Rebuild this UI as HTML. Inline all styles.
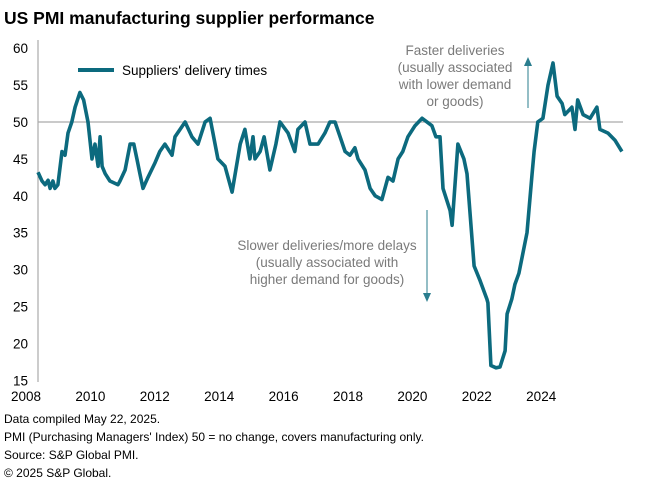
<!DOCTYPE html>
<html><head><meta charset="utf-8"><style>
body{margin:0;background:#fff;font-family:"Liberation Sans",Arial,sans-serif;}
svg text{font-family:"Liberation Sans",Arial,sans-serif;}
</style></head><body>
<svg id="c" width="648" height="492" viewBox="0 0 648 492" xmlns="http://www.w3.org/2000/svg">
<text x="4" y="24" font-size="17.5" font-weight="bold" fill="#000">US PMI manufacturing supplier performance</text>
<line x1="38" y1="40" x2="38" y2="382" stroke="#999" stroke-width="1"/>
<line x1="38" y1="122" x2="623" y2="122" stroke="#aaa" stroke-width="1.3"/>
<g id="yt"></g><g id="xt"></g>
<line x1="78" y1="70" x2="114" y2="70" stroke="#0c6a7e" stroke-width="4"/>
<text x="122" y="75" font-size="13.5" fill="#000">Suppliers' delivery times</text>
<g font-size="13.5" fill="#7a7a7a" text-anchor="middle">
<text x="455" y="55">Faster deliveries</text><text x="455" y="72">(usually associated</text><text x="455" y="89">with lower  demand</text><text x="455" y="106">or goods)</text></g>
<line x1="528" y1="108" x2="528" y2="64" stroke="#2a7d8e" stroke-width="1"/>
<polygon points="524,66 532,66 528,57" fill="#2a7d8e"/>
<g font-size="13.5" fill="#7a7a7a" text-anchor="middle">
<text x="327" y="250">Slower deliveries/more delays</text><text x="327" y="267">(usually associated with</text><text x="327" y="284">higher demand  for goods)</text></g>
<line x1="427" y1="210" x2="427" y2="295" stroke="#2a7d8e" stroke-width="1"/>
<polygon points="423,293 431,293 427,302" fill="#2a7d8e"/>
<path id="ln" fill="none" stroke="#0c6a7e" stroke-width="3.6" stroke-linejoin="round"/>
<g font-size="12" fill="#000">
<text x="4" y="423">Data compiled May 22, 2025.</text>
<text x="4" y="441">PMI (Purchasing Managers' Index) 50 =  no change, covers manufacturing only.</text>
<text x="4" y="459">Source: S&amp;P Global PMI.</text>
<text x="4" y="477">© 2025 S&amp;P Global.</text></g>
</svg>
<script>
const yTicks=[15,20,25,30,35,40,45,50,55,60];
const xLabels=["2008","2010","2012","2014","2016","2018","2020","2022","2024"];
const dates=[2008.00,2008.12,2008.21,2008.30,2008.36,2008.44,2008.50,2008.59,2008.71,2008.80,2008.89,2009.00,2009.10,2009.24,2009.35,2009.48,2009.60,2009.69,2009.78,2009.84,2009.90,2009.99,2010.13,2010.37,2010.43,2010.58,2010.73,2010.84,2010.93,2011.02,2011.11,2011.26,2011.47,2011.61,2011.76,2011.97,2012.06,2012.36,2012.56,2012.74,2012.95,2013.10,2013.33,2013.54,2013.75,2013.99,2014.13,2014.28,2014.37,2014.43,2014.58,2014.70,2014.87,2015.05,2015.17,2015.41,2015.61,2015.70,2015.91,2016.06,2016.30,2016.50,2016.65,2016.80,2016.95,2017.10,2017.24,2017.39,2017.48,2017.69,2017.84,2017.99,2018.19,2018.37,2018.52,2018.67,2018.81,2018.96,2019.17,2019.38,2019.67,2019.79,2019.91,2020.00,2020.21,2020.27,2020.44,2020.62,2020.71,2020.92,2021.10,2021.30,2021.33,2021.42,2021.57,2021.69,2021.84,2021.90,2022.04,2022.13,2022.25,2022.49,2022.64,2022.70,2022.81,2022.96,2023.11,2023.26,2023.38,2023.53,2023.61,2023.82,2023.91,2023.99,2024.15,2024.36,2024.56,2024.65,2024.89,2025.10,2025.30];
const values=[43.2,42.0,41.5,42.1,41.0,42.0,41.0,41.5,46.0,45.5,48.5,50.0,52.0,54.0,53.0,50.0,45.0,47.0,44.0,48.0,44.0,43.0,42.0,41.5,42.0,43.5,47.0,47.0,45.0,43.0,41.0,42.5,44.5,46.0,47.0,45.5,48.0,50.0,48.0,47.0,50.0,50.5,45.0,44.0,40.5,47.0,49.0,45.0,48.0,45.0,46.0,48.0,43.5,47.0,50.0,48.5,46.0,49.0,50.0,47.0,47.0,48.5,50.0,50.0,48.0,46.0,45.5,46.5,45.0,43.5,41.0,40.0,39.5,42.5,42.0,45.0,46.0,48.0,49.5,50.5,49.5,48.0,48.0,41.0,38.0,36.0,47.0,45.0,43.0,30.5,28.5,26.0,25.5,17.0,16.7,16.8,19.0,24.0,26.0,28.0,29.5,35.0,43.0,46.0,50.0,50.5,55.0,58.0,53.5,52.5,51.0,52.0,49.0,53.0,51.0,50.5,52.0,49.0,48.5,47.5,46.0];
const NS="http://www.w3.org/2000/svg";
const X=t=>38+(t-2008)*33.75, Y=v=>122-(v-50)*7.38;
const yt=document.getElementById('yt'), xt=document.getElementById('xt');
yTicks.forEach(v=>{const t=document.createElementNS(NS,'text');


t.setAttribute('x',28);t.setAttribute('y',Y(v)+5);t.setAttribute('text-anchor','end');t.setAttribute('font-size','13.5');t.textContent=v;yt.appendChild(t);});
xLabels.forEach((s,i)=>{const t=document.createElementNS(NS,'text');


t.setAttribute('x',26+i*64.4);t.setAttribute('y',401);t.setAttribute('text-anchor','middle');t.setAttribute('font-size','13.5');t.textContent=s;xt.appendChild(t);});
document.getElementById('ln').setAttribute('d',dates.map((d,i)=>(i?'L':'M')+X(d).toFixed(1)+','+Y(values[i]).toFixed(1)).join(''));
</script>
</body></html>
